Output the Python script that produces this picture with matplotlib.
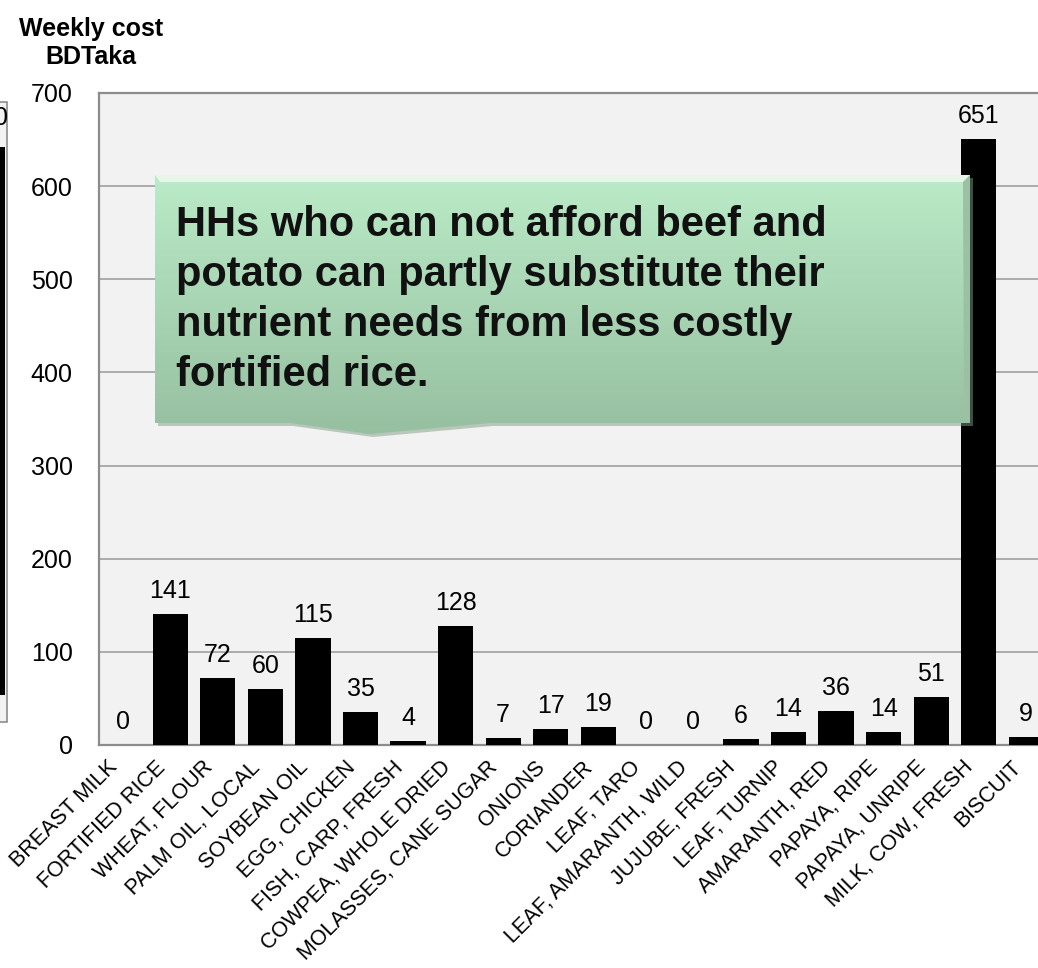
import numpy as np
import matplotlib
matplotlib.use('Agg')
import matplotlib.pyplot as plt
import matplotlib.transforms as mtransforms
from matplotlib.patches import Polygon, Rectangle

plt.rcParams['font.family'] = ['Liberation Sans', 'DejaVu Sans']

# 数据
foods = ['BREAST MILK', 'FORTIFIED RICE', 'WHEAT, FLOUR', 'PALM OIL, LOCAL', 'SOYBEAN OIL',
         'EGG, CHICKEN', 'FISH, CARP, FRESH', 'COWPEA, WHOLE DRIED', 'MOLASSES, CANE SUGAR',
         'ONIONS', 'CORIANDER', 'LEAF, TARO', 'LEAF, AMARANTH, WILD', 'JUJUBE, FRESH',
         'LEAF, TURNIP', 'AMARANTH, RED', 'PAPAYA, RIPE', 'PAPAYA, UNRIPE', 'MILK, COW, FRESH',
         'BISCUIT']
weekly_cost = [0, 141, 72, 60, 115, 35, 4, 128, 7, 17, 19, 0, 0, 6, 14, 36, 14, 51, 651, 9]
y_ticks = [0, 100, 200, 300, 400, 500, 600, 700]
note = ('HHs who can not afford beef and\n'
        'potato can partly substitute their\n'
        'nutrient needs from less costly\n'
        'fortified rice.')

W, H = 1038, 968
fig = plt.figure(figsize=(W / 100, H / 100), dpi=100, facecolor='white')

# 主图
ax = fig.add_axes([99 / W, 223 / H, 951 / W, 652 / H])
ax.set_facecolor('#f2f2f2')
x = np.arange(len(foods))
ax.bar(x, weekly_cost, width=0.74, color='black', zorder=3)
for xi, v in zip(x, weekly_cost):
    ax.annotate(str(v), (xi, v), xytext=(0, 8), textcoords='offset points',
                ha='center', va='bottom', fontsize=18, zorder=4)

ax.set_xlim(-0.5, len(foods) - 0.5)
ax.set_ylim(0, 700)
ax.set_yticks(y_ticks)
ax.yaxis.grid(True, color='#a6a6a6', lw=1.3, zorder=0)
ax.tick_params(axis='y', length=0, pad=19, labelsize=18)
ax.set_xticks(x)
ax.set_xticklabels(foods, rotation=45, ha='right', va='center', rotation_mode='anchor', fontsize=15.5)
ax.tick_params(axis='x', length=0, pad=14)
shift = mtransforms.ScaledTranslation(-6 / 72, 0, fig.dpi_scale_trans)
for lab in ax.get_xticklabels():
    lab.set_transform(lab.get_transform() + shift)
for s in ['left', 'top', 'bottom']:
    ax.spines[s].set_color('#8c8c8c')
    ax.spines[s].set_linewidth(1.6)
ax.spines['right'].set_visible(False)

# 像素坐标的覆盖层
ov = fig.add_axes([0, 0, 1, 1], zorder=10)
ov.set_xlim(0, W)
ov.set_ylim(H, 0)
ov.axis('off')
ov.patch.set_alpha(0)

ov.text(91, 43, 'Weekly cost\nBDTaka', fontsize=18, fontweight='bold',
        ha='center', va='center', linespacing=1.25)

# 左边被截掉的图
ov.add_patch(Rectangle((-2, 102), 9, 620, facecolor='#f2f2f2', edgecolor='#8c8c8c', lw=1.2))
ov.add_patch(Rectangle((-2, 147), 7, 548, facecolor='black', edgecolor='none'))
ov.text(-6, 118, '0', fontsize=18, ha='left', va='center')

# 标注框（渐变）
pts = [(155, 175), (970, 175), (970, 423), (490, 423), (370, 434), (290, 423), (155, 423)]
shadow = Polygon([(px + 3, py + 3) for px, py in pts], closed=True, facecolor='#7f9c86',
                 edgecolor='none', alpha=0.5)
ov.add_patch(shadow)
poly = Polygon(pts, closed=True, facecolor='none', edgecolor='none')
ov.add_patch(poly)
grad = np.linspace(0, 1, 256).reshape(-1, 1)
top_c = np.array([0.73, 0.92, 0.78])
bot_c = np.array([0.59, 0.75, 0.63])
img = top_c + (bot_c - top_c) * grad[..., None]
im = ov.imshow(img, extent=(155, 970, 434, 175), aspect='auto', interpolation='bilinear', zorder=2)
im.set_clip_path(poly)
# 斜面高光
ov.add_patch(Polygon([(155, 175), (970, 175), (963, 182), (160, 182)], closed=True,
                     facecolor='#e6f7ea', edgecolor='none', zorder=3))
ov.add_patch(Polygon([(970, 175), (970, 423), (964, 417), (963, 182)], closed=True,
                     facecolor='#9cc0a4', edgecolor='none', zorder=3))
ov.text(176, 205, note, fontsize=30, fontweight='bold', ha='left', va='top',
        linespacing=1.32, color='#111111', zorder=4)

fig.savefig('out.png', dpi=100, facecolor='white')
